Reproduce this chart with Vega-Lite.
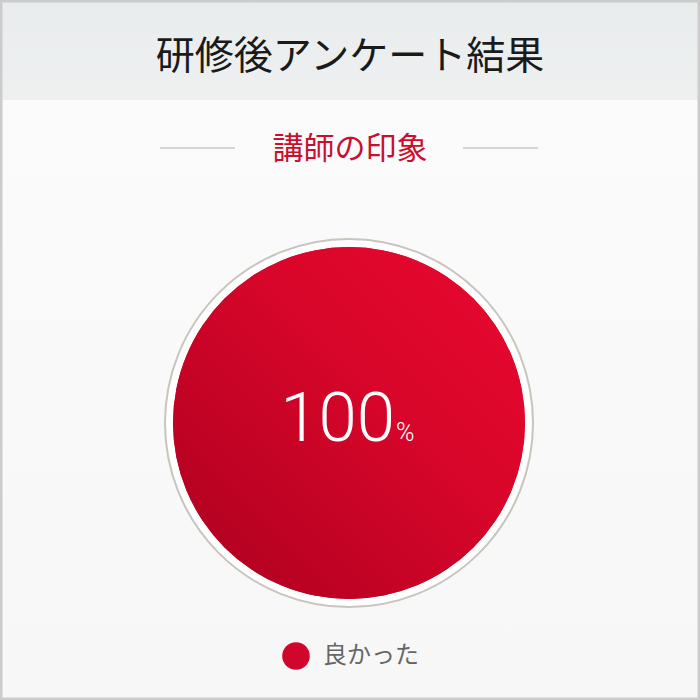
{
  "$schema": "https://vega.github.io/schema/vega-lite/v6.json",
  "description": "研修後アンケート結果：講師の印象",
  "width": 700,
  "height": 700,
  "autosize": "none",
  "padding": 0,
  "background": "#f9f9f9",
  "data": {"values": [{"回答": "良かった", "割合": 100}]},
  "title": {
    "text": "研修後アンケート結果",
    "subtitle": "講師の印象",
    "anchor": "middle",
    "orient": "top",
    "offset": -165,
    "font": "Noto Sans CJK JP",
    "fontSize": 39,
    "fontWeight": "normal",
    "color": "#1a1a1a",
    "subtitleFont": "Noto Sans CJK JP",
    "subtitleFontSize": 31,
    "subtitleColor": "#c8102e",
    "subtitlePadding": 58
  },
  "config": {
    "view": {
      "fill": {
        "gradient": "linear",
        "x1": 0, "y1": 0, "x2": 0, "y2": 1,
        "stops": [
          {"offset": 0, "color": "#e9eced"},
          {"offset": 0.1428, "color": "#eef0f0"},
          {"offset": 0.1429, "color": "#fbfbfb"},
          {"offset": 1, "color": "#f7f7f7"}
        ]
      },
      "stroke": "#cccccc",
      "strokeWidth": 5
    },
    "legend": {
      "orient": "bottom",
      "offset": -58,
      "title": null,
      "symbolType": "circle",
      "symbolSize": 760,
      "symbolStrokeWidth": 0,
      "labelFont": "Noto Sans CJK JP",
      "labelFontSize": 24,
      "labelColor": "#666666",
      "labelOffset": 13,
      "layout": {"bottom": {"anchor": "middle"}}
    }
  },
  "layer": [
    {
      "mark": {"type": "rule", "color": "#c8c8c8", "strokeWidth": 1.5},
      "encoding": {
        "x": {"datum": 160, "type": "quantitative", "scale": {"domain": [0, 700], "nice": false}, "axis": null},
        "x2": {"datum": 235},
        "y": {"datum": 148, "type": "quantitative", "scale": {"domain": [0, 700], "nice": false, "reverse": true}, "axis": null}
      }
    },
    {
      "mark": {"type": "rule", "color": "#c8c8c8", "strokeWidth": 1.5},
      "encoding": {
        "x": {"datum": 463, "type": "quantitative"},
        "x2": {"datum": 538},
        "y": {"datum": 148, "type": "quantitative"}
      }
    },
    {
      "mark": {"type": "arc", "outerRadius": 184, "fill": "#ffffff", "stroke": "#c9c4bc", "strokeWidth": 2},
      "encoding": {
        "theta": {"field": "割合", "type": "quantitative"},
        "x": {"datum": 349, "type": "quantitative"},
        "y": {"datum": 423, "type": "quantitative"}
      }
    },
    {
      "mark": {"type": "arc", "outerRadius": 176},
      "encoding": {
        "theta": {"field": "割合", "type": "quantitative"},
        "color": {
          "field": "回答",
          "type": "nominal",
          "scale": {"range": ["#d0062a"]},
          "legend": {
            "encode": {
              "symbols": {
                "update": {
                  "fill": {"value": {
                    "gradient": "linear",
                    "x1": 0, "y1": 1, "x2": 1, "y2": 0,
                    "stops": [
                      {"offset": 0, "color": "#b0001f"},
                      {"offset": 1, "color": "#e8072d"}
                    ]
                  }}
                }
              }
            }
          }
        },
        "x": {"datum": 349, "type": "quantitative"},
        "y": {"datum": 423, "type": "quantitative"}
      }
    },
    {
      "mark": {
        "type": "arc",
        "outerRadius": 176,
        "fill": {
          "gradient": "linear",
          "x1": 0, "y1": 1, "x2": 1, "y2": 0,
          "stops": [
            {"offset": 0, "color": "#ab001f"},
            {"offset": 0.6, "color": "#d8062a"},
            {"offset": 1, "color": "#ea082e"}
          ]
        }
      },
      "encoding": {
        "theta": {"field": "割合", "type": "quantitative"},
        "x": {"datum": 349, "type": "quantitative"},
        "y": {"datum": 423, "type": "quantitative"}
      }
    },
    {
      "mark": {"type": "text", "align": "right", "baseline": "alphabetic", "font": "Roboto", "fontWeight": 300, "fontSize": 69, "color": "#ffffff"},
      "encoding": {
        "text": {"field": "割合", "type": "quantitative"},
        "x": {"datum": 395, "type": "quantitative"},
        "y": {"datum": 441, "type": "quantitative"}
      }
    },
    {
      "mark": {"type": "text", "text": "%", "align": "left", "baseline": "alphabetic", "font": "Roboto", "fontWeight": 300, "fontSize": 25, "color": "#ffffff"},
      "encoding": {
        "x": {"datum": 396, "type": "quantitative"},
        "y": {"datum": 441, "type": "quantitative"}
      }
    }
  ]
}
